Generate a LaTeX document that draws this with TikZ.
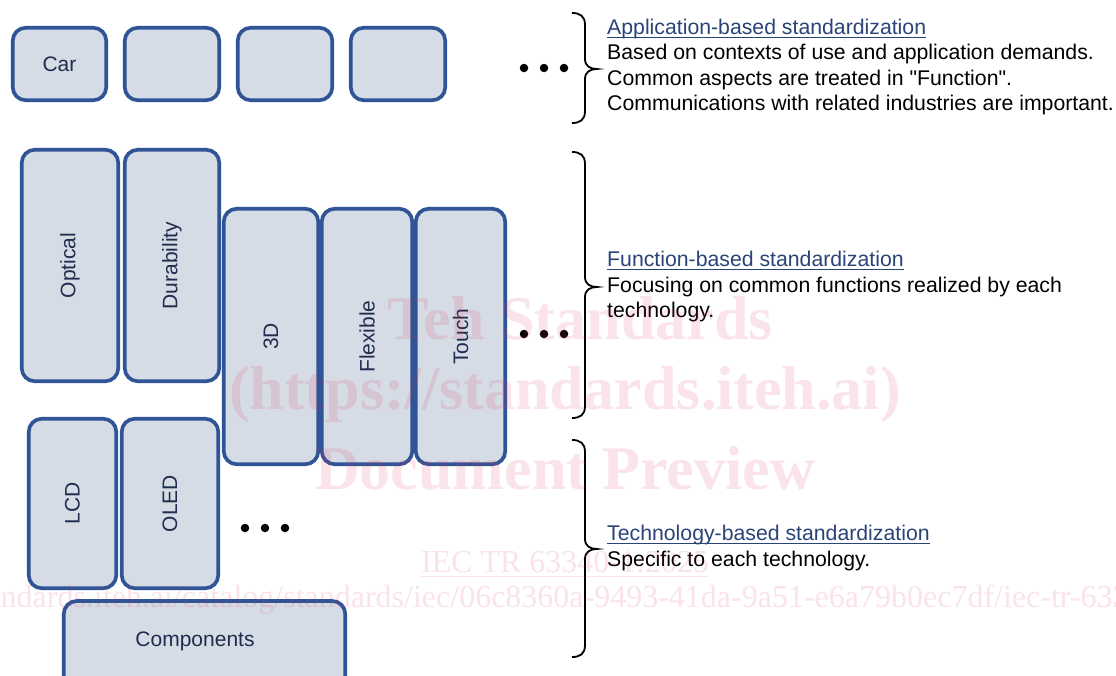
\documentclass[tikz,border=0pt]{standalone}
\usepackage{fontspec}
\setmainfont{Liberation Sans}
\newfontfamily\bodyfont{Liberation Sans}
\newfontfamily\wmfont{Liberation Serif}
\definecolor{boxfill}{HTML}{D6DCE5}
\definecolor{boxline}{HTML}{2F5597}
\definecolor{boxtext}{HTML}{1F2D4E}
\definecolor{headblue}{HTML}{2A4478}
\definecolor{wmpink}{RGB}{220,40,90}
\newcommand\drawbrace[3]{\draw[bracestyle] (572,#1) .. controls (580,#1) and (585,#1+3) .. (585,#1+12) -- (585,#2-10) .. controls (585,#2-3) and (590,#2) .. (597,#2) .. controls (590,#2) and (585,#2+3) .. (585,#2+10) -- (585,#3-12) .. controls (585,#3-3) and (580,#3) .. (572,#3);}
\begin{document}
\begin{tikzpicture}[x=1pt,y=-1pt,
  box/.style={draw=boxline, fill=boxfill, line width=3.7pt, rounded corners=13pt, inner sep=0pt, font=\fontsize{21}{25}\selectfont, text=boxtext},
  dot/.style={circle, fill=black, inner sep=0pt, minimum size=8.5pt},
  txt/.style={anchor=base west, inner sep=0pt, font=\bodyfont\fontsize{21.25}{25}\selectfont},
  head/.style={txt, text=headblue},
  uline/.style={headblue, line width=1.4pt},
  bracestyle/.style={black, line width=1.8pt},
  wm/.style={text=wmpink, text opacity=0.13, inner sep=0pt, font=\wmfont\bfseries\fontsize{62}{62}\selectfont},
  wmsmall/.style={text=wmpink, text opacity=0.13, inner sep=0pt, font=\wmfont\fontsize{32}{32}\selectfont}]
\useasboundingbox (0,0) rectangle (1116,675);
\clip (0,0) rectangle (1116,675);
\fill[white] (0,0) rectangle (1116,675);

% top row
\node[box, minimum width=93.5pt, minimum height=72.5pt] (car) at (59.5,64) {\raisebox{-3pt}{Car}};
\node[box, minimum width=94.5pt, minimum height=72.5pt] (app2) at (172,64) {};
\node[box, minimum width=94.5pt, minimum height=72.5pt] (app3) at (285,64) {};
\node[box, minimum width=94.5pt, minimum height=72.5pt] (app4) at (398,64) {};
\node[dot] (d1a) at (524,68) {};
\node[dot] (d1b) at (544,68) {};
\node[dot] (d1c) at (564,68) {};

% function boxes
\node[box, minimum width=96.5pt, minimum height=231.5pt] (optical) at (70,265.5) {\rotatebox{90}{Optical}};
\node[box, minimum width=94.5pt, minimum height=231.5pt] (durab) at (172,265.5) {\rotatebox{90}{Durability}};
\node[box, minimum width=94.5pt, minimum height=255.5pt] (threed) at (271,336.5) {\rotatebox{90}{3D}};
\node[box, minimum width=90.5pt, minimum height=255.5pt] (flex) at (367,336.5) {\rotatebox{90}{Flexible}};
\node[box, minimum width=89.5pt, minimum height=255.5pt] (touch) at (460.5,336.5) {\rotatebox{90}{Touch}};
\node[dot] (d2a) at (524,334) {};
\node[dot] (d2b) at (544,334) {};
\node[dot] (d2c) at (564,334) {};

% technology boxes
\node[box, minimum width=87.5pt, minimum height=169.5pt] (lcd) at (72.5,503.5) {\rotatebox{90}{LCD}};
\node[box, minimum width=96.5pt, minimum height=169.5pt] (oled) at (170,503.5) {\rotatebox{90}{OLED}};
\node[dot] (d3a) at (245,528) {};
\node[dot] (d3b) at (265,528) {};
\node[dot] (d3c) at (285,528) {};
\node[box, minimum width=281.5pt, minimum height=100pt] (comp) at (204.5,651) {};
\node[box, draw=none, fill=none] (complabel) at (195,641) {Components};

% braces
\drawbrace{13}{69}{123}
\drawbrace{152}{287}{418}
\drawbrace{440}{549}{657}

% texts
\node[head] (h1) at (607,34.5) {Application-based standardization};
\draw[uline] ([yshift=-3pt]h1.base west) -- ([yshift=-3pt]h1.base east);
\node[txt] (t1a) at (607,59.8) {Based on contexts of use and application demands.};
\node[txt] (t1b) at (607,85.1) {Common aspects are treated in "Function".};
\node[txt] (t1c) at (607,110.4) {Communications with related industries are important.};

\node[head] (h2) at (607,266.5) {Function-based standardization};
\draw[uline] ([yshift=-3pt]h2.base west) -- ([yshift=-3pt]h2.base east);
\node[txt] (t2a) at (607,292) {Focusing on common functions realized by each};
\node[txt] (t2b) at (607,317.5) {technology.};

\node[head] (h3) at (607,540.5) {Technology-based standardization};
\draw[uline] ([yshift=-3pt]h3.base west) -- ([yshift=-3pt]h3.base east);
\node[txt] (t3a) at (607,566) {Specific to each technology.};

% watermark
\node[wm] (wm1) at (580,318) {Teh Standards};
\node[wm] (wm2) at (565,395) {(https://standards.iteh.ai)};
\node[wm] (wm3) at (565,468) {Document Preview};
\node[wmsmall] (wm4) at (565,562) {IEC TR 63340-1:2025};
\draw[wmpink, opacity=0.13, line width=1.5pt] ([yshift=-4pt]wm4.base west) -- ([yshift=-4pt]wm4.base east);
\node[wmsmall, anchor=west] (wm5) at (-124,600) {https://standards.iteh.ai/catalog/standards/iec/06c8360a-9493-41da-9a51-e6a79b0ec7df/iec-tr-63340-1-2025};
\end{tikzpicture}
\end{document}
